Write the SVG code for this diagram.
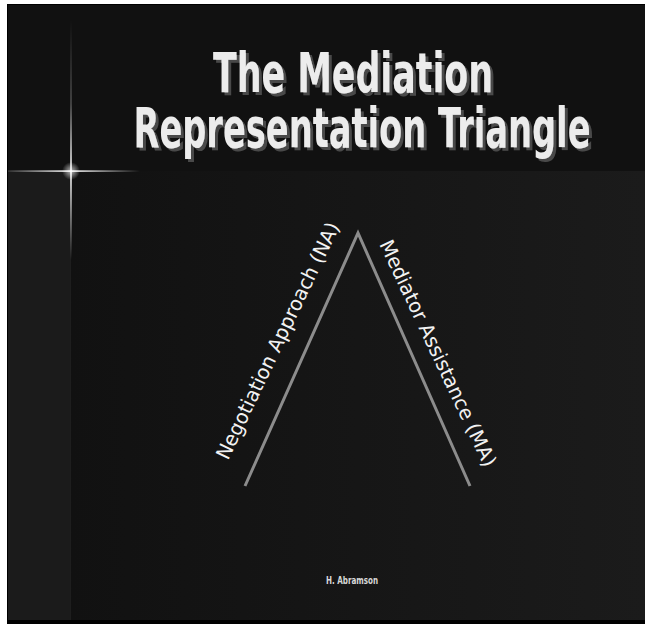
<svg xmlns="http://www.w3.org/2000/svg" width="645" height="624" viewBox="0 0 645 624">
  <style>
    .title { font-family: "DejaVu Sans", "Liberation Sans", sans-serif; font-weight: bold; font-size: 55px; text-anchor: middle; fill: #ececec; filter: url(#shadow); }
    .label { font-family: "DejaVu Sans", "Liberation Sans", sans-serif; font-size: 20px; fill: #f2f2f2; }
    .author { font-family: "DejaVu Sans", "Liberation Sans", sans-serif; font-size: 10px; font-weight: bold; fill: #d8d8d8; }
    .leg { stroke: #8c8c8c; stroke-width: 3; fill: none; stroke-linecap: butt; }
  </style>
  <defs>
    <filter id="shadow" x="-5%" y="-20%" width="115%" height="150%">
      <feFlood flood-color="#4a4a4a" result="c"/>
      <feComposite in="c" in2="SourceAlpha" operator="in" result="s"/>
      <feOffset in="s" dx="3" dy="3" result="o"/>
      <feMerge>
        <feMergeNode in="o"/>
        <feMergeNode in="SourceGraphic"/>
      </feMerge>
    </filter>
    <linearGradient id="lower" gradientUnits="userSpaceOnUse" x1="70" y1="0" x2="645" y2="0">
      <stop offset="0" stop-color="#111111"/>
      <stop offset="0.2" stop-color="#131313"/>
      <stop offset="1" stop-color="#1b1b1b"/>
    </linearGradient>
    <linearGradient id="flareH" gradientUnits="userSpaceOnUse" x1="8" y1="0" x2="140" y2="0">
      <stop offset="0" stop-color="#ffffff" stop-opacity="0.15"/>
      <stop offset="0.48" stop-color="#ffffff" stop-opacity="1"/>
      <stop offset="1" stop-color="#ffffff" stop-opacity="0"/>
    </linearGradient>
    <linearGradient id="flareV" gradientUnits="userSpaceOnUse" x1="0" y1="20" x2="0" y2="260">
      <stop offset="0" stop-color="#ffffff" stop-opacity="0"/>
      <stop offset="0.35" stop-color="#ffffff" stop-opacity="0.25"/>
      <stop offset="0.63" stop-color="#ffffff" stop-opacity="1"/>
      <stop offset="1" stop-color="#ffffff" stop-opacity="0"/>
    </linearGradient>
    <radialGradient id="glow" cx="71" cy="171" r="9" gradientUnits="userSpaceOnUse">
      <stop offset="0" stop-color="#ffffff" stop-opacity="0.7"/>
      <stop offset="1" stop-color="#ffffff" stop-opacity="0"/>
    </radialGradient>
  </defs>

  <!-- page background -->
  <rect x="0" y="0" width="645" height="624" fill="#ffffff"/>
  <rect x="7" y="4" width="638" height="620" fill="#000000"/>
  <rect x="8" y="5" width="637" height="615" fill="#111111"/>
  <rect x="70" y="171" width="575" height="449" fill="url(#lower)"/>
  <rect x="8" y="172" width="62" height="448" fill="#1b1b1b"/>
  <rect x="70" y="172" width="1" height="448" fill="#1e1e1e"/>

  <!-- flare -->
  <g id="flare">
    <rect x="8" y="170.3" width="132" height="1.6" fill="url(#flareH)"/>
    <rect x="70.2" y="20" width="1.6" height="240" fill="url(#flareV)"/>
    <circle cx="71" cy="171" r="9" fill="url(#glow)"/>
  </g>

  <!-- title -->
  <g id="title">
    <text class="title" x="353" y="92" textLength="280" lengthAdjust="spacingAndGlyphs">The Mediation</text>
    <text class="title" x="362" y="147" textLength="457" lengthAdjust="spacingAndGlyphs">Representation Triangle</text>
  </g>

  <!-- connectors (triangle legs) -->
  <g id="connectors">
    <polyline class="leg" points="245,486 358,233 470,486"/>
  </g>

  <g id="label-na">
    <text class="label" transform="translate(228,461) rotate(-64.5)" textLength="260" lengthAdjust="spacingAndGlyphs">Negotiation Approach (NA)</text>
  </g>
  <g id="label-ma">
    <text class="label" transform="translate(379,244) rotate(64.8)" textLength="248" lengthAdjust="spacingAndGlyphs">Mediator Assistance (MA)</text>
  </g>

  <g id="author">
    <text class="author" x="326" y="584" textLength="52" lengthAdjust="spacingAndGlyphs">H. Abramson</text>
  </g>
</svg>
